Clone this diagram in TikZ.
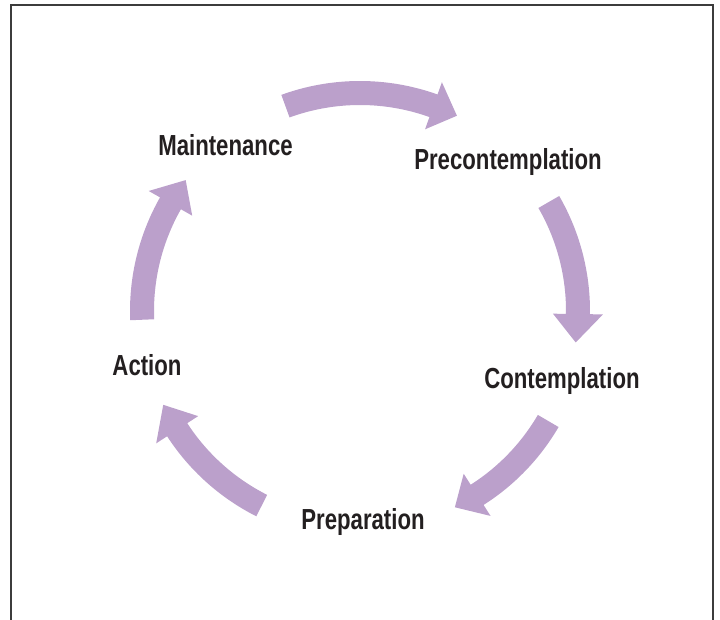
\documentclass[tikz,border=0pt]{standalone}
\usepackage{fontspec}
\newfontfamily\labelfont{Liberation Sans}[FakeStretch=0.765]
\definecolor{cyclepurple}{HTML}{BBA0CB}
\definecolor{labelink}{HTML}{231F20}
\definecolor{framegray}{HTML}{3C3C3C}
% curved block arrow on the cycle: tail angle, head-base angle, tip angle
\newcommand{\cyclearrow}[3]{%
  \fill[cyclepurple] (#1:206pt) arc[start angle=#1, end angle=#2, radius=206pt]
    -- (#2:193pt) -- (#3:218pt) -- (#2:243pt) -- (#2:230pt)
    arc[start angle=#2, end angle=#1, radius=230pt] -- cycle;}
\tikzset{
  stage/.style={anchor=base, text=labelink, inner sep=0pt,
    font=\labelfont\bfseries\fontsize{29}{34}\selectfont},
  frame/.style={draw=framegray, line width=1.4pt}
}
\begin{document}
\begin{tikzpicture}[x=1pt, y=1pt]
  \useasboundingbox (0,0) rectangle (720,619);
  \draw[frame] (11,-2) -- (11,614) -- (713,614) -- (713,-2);

  \begin{scope}[shift={(360,308)}]
    \cyclearrow{110}{70.3}{63.6}
    \cyclearrow{30}{-0.8}{-8.3}
    \cyclearrow{-30.3}{-57.5}{-64.2}
    \cyclearrow{-116.8}{-147}{-154.5}
    \cyclearrow{182.3}{150.4}{143.1}
  \end{scope}

  \node[stage] (maint) at (225.5,463) {Maintenance};
  \node[stage] (precon) at (508,449) {Precontemplation};
  \node[stage] (contem) at (562,230) {Contemplation};
  \node[stage] (action) at (147,243) {Action};
  \node[stage] (prep) at (363,90) {Preparation};
\end{tikzpicture}
\end{document}
